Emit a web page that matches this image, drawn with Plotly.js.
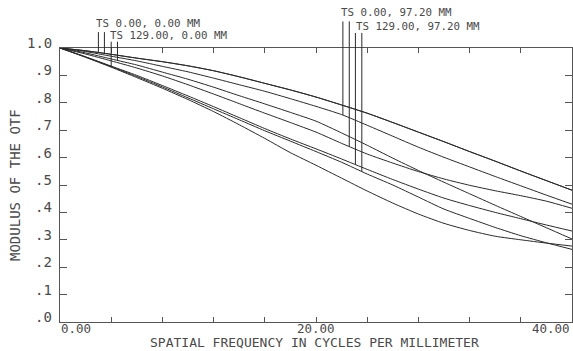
<!DOCTYPE html>
<html><head><meta charset="utf-8">
<script src="https://cdn.plot.ly/plotly-3.0.1.min.js"></script>
<style>html,body{margin:0;padding:0;background:#fff;} #chart{width:573px;height:351px;}</style>
</head><body><div id="chart"></div>
<script>
// Spatial frequency samples (cycles/mm)
const freq = [0, 2, 4, 6, 8, 10, 12, 14, 16, 18, 20, 22, 24, 26, 28, 30, 32, 34, 36, 38, 40];

// MTF series (T = tangential, S = sagittal) per field
const f1T = [1.000, 0.990, 0.977, 0.963, 0.950, 0.935, 0.917, 0.895, 0.871, 0.847, 0.821, 0.792, 0.762, 0.728, 0.693, 0.658, 0.622, 0.587, 0.551, 0.516, 0.481];
const f1S = [1.000, 0.990, 0.977, 0.963, 0.950, 0.935, 0.917, 0.895, 0.871, 0.847, 0.821, 0.792, 0.762, 0.728, 0.693, 0.658, 0.622, 0.587, 0.551, 0.516, 0.481];
const f2T = [1.000, 0.966, 0.930, 0.892, 0.853, 0.812, 0.768, 0.720, 0.670, 0.618, 0.572, 0.525, 0.478, 0.434, 0.394, 0.360, 0.334, 0.313, 0.300, 0.288, 0.277];
const f2S = [1.000, 0.982, 0.960, 0.938, 0.912, 0.886, 0.857, 0.826, 0.796, 0.765, 0.733, 0.690, 0.645, 0.598, 0.553, 0.510, 0.468, 0.426, 0.385, 0.344, 0.303];
const f3T = [1.000, 0.987, 0.970, 0.953, 0.933, 0.913, 0.890, 0.866, 0.842, 0.815, 0.787, 0.757, 0.718, 0.678, 0.638, 0.601, 0.566, 0.531, 0.497, 0.463, 0.430];
const f3S = [1.000, 0.978, 0.953, 0.927, 0.898, 0.866, 0.832, 0.797, 0.762, 0.728, 0.693, 0.652, 0.613, 0.580, 0.549, 0.522, 0.499, 0.479, 0.461, 0.441, 0.415];
const f4T = [1.000, 0.968, 0.934, 0.900, 0.863, 0.825, 0.786, 0.746, 0.706, 0.668, 0.632, 0.595, 0.557, 0.520, 0.485, 0.452, 0.425, 0.400, 0.377, 0.354, 0.332];
const f4S = [1.000, 0.967, 0.932, 0.896, 0.858, 0.818, 0.778, 0.738, 0.698, 0.660, 0.622, 0.583, 0.540, 0.500, 0.456, 0.412, 0.378, 0.345, 0.315, 0.289, 0.265];

// Field labels and the frequency at which each curve's leader line is drawn
const fieldLabels = ['TS 0.00, 0.00 MM', 'TS 129.00, 0.00 MM', 'TS 0.00, 97.20 MM', 'TS 129.00, 97.20 MM'];
const leaderFreq = [3.0, 3.47, 4.0, 4.49, 22.1, 22.6, 23.08, 23.58];

// Axis ticks
const xTickVals = [0, 4, 8, 12, 16, 20, 24, 28, 32, 36, 40];
const xLabelVals = [0, 20, 40];
const xLabelText = ['0.00', '20.00', '40.00'];
const yTickVals = [0, 0.1, 0.2, 0.3, 0.4, 0.5, 0.6, 0.7, 0.8, 0.9, 1.0];
const yTickText = ['.0', '.1', '.2', '.3', '.4', '.5', '.6', '.7', '.8', '.9', '1.0'];
const xTitle = 'SPATIAL FREQUENCY IN CYCLES PER MILLIMETER';
const yTitle = 'MODULUS OF THE OTF';

const series = [f1T, f1S, f2T, f2S, f3T, f3S, f4T, f4S];

function interp(xs, ys, x) {
  for (let i = 0; i < xs.length - 1; i++) {
    if (x >= xs[i] && x <= xs[i + 1]) {
      const t = (x - xs[i]) / (xs[i + 1] - xs[i]);
      return ys[i] + t * (ys[i + 1] - ys[i]);
    }
  }
  return ys[ys.length - 1];
}

const lineCol = '#2a2a2a';
const axCol = '#555';
const txtCol = '#4a4a4a';
const monoBig = {family: 'DejaVu Sans Mono', size: 14, color: txtCol};
const monoTick = {family: 'DejaVu Sans Mono', size: 12.5, color: txtCol};
const monoTitle = {family: 'DejaVu Sans Mono', size: 13, color: txtCol};
const monoSmall = {family: 'DejaVu Sans Mono', size: 10.8, color: txtCol};

const traces = series.map(s => ({
  x: freq, y: s, type: 'scatter', mode: 'lines',
  line: {color: lineCol, width: 1, shape: 'spline', smoothing: 0.6},
  hoverinfo: 'skip', showlegend: false
}));

// leader line tops (paper coords), one per field
const leaderTop = [1.058, 1.023, 1.097, 1.055];
const shapes = [];
series.forEach((s, i) => {
  const f = Math.floor(i / 2);
  shapes.push({
    type: 'line', xref: 'x', yref: 'paper',
    x0: leaderFreq[i], x1: leaderFreq[i],
    y0: interp(freq, s, leaderFreq[i]), y1: leaderTop[f],
    line: {color: lineCol, width: 1}
  });
});

const annotations = [];
// field labels
const labelY = [1.089, 1.044, 1.128, 1.080];
const labelShift = [-3, -2, -3, 0];
fieldLabels.forEach((t, k) => {
  annotations.push({
    xref: 'x', yref: 'paper', x: leaderFreq[2 * k], y: labelY[k],
    xanchor: 'left', yanchor: 'middle', xshift: labelShift[k],
    text: t, showarrow: false, font: monoSmall, borderpad: 0
  });
});
// y tick labels
yTickVals.forEach((v, i) => {
  annotations.push({
    xref: 'paper', yref: 'y', x: 0, y: v, xanchor: 'right', yanchor: 'middle',
    xshift: -7, yshift: 5, text: yTickText[i], showarrow: false, font: monoBig, borderpad: 0
  });
});
// x tick labels
xLabelVals.forEach((v, i) => {
  const anc = i === 0 ? 'left' : (i === xLabelVals.length - 1 ? 'right' : 'center');
  annotations.push({
    xref: 'x', yref: 'paper', x: v, y: 0, xanchor: anc, yanchor: 'middle',
    yshift: -6.5, xshift: i === xLabelVals.length - 1 ? -1 : 0,
    text: xLabelText[i], showarrow: false, font: monoTick, borderpad: 0
  });
});
// axis titles
annotations.push({xref: 'paper', yref: 'paper', x: 0.497, y: 0, xanchor: 'center', yanchor: 'middle',
  yshift: -20.5, text: xTitle, showarrow: false, font: monoTitle, borderpad: 0});
annotations.push({xref: 'paper', yref: 'paper', x: 0, y: 0.5, xanchor: 'center', yanchor: 'middle',
  xshift: -45, textangle: -90, text: yTitle, showarrow: false, font: monoBig, borderpad: 0});

const layout = {
  width: 573, height: 351,
  margin: {l: 60, r: 1, t: 48, b: 29, pad: 0},
  paper_bgcolor: '#fff', plot_bgcolor: '#fff',
  showlegend: false,
  xaxis: {range: [0, 40], tickmode: 'array', tickvals: xTickVals, showticklabels: false,
    ticks: 'inside', ticklen: 5, tickcolor: axCol, tickwidth: 1,
    showline: true, linecolor: axCol, linewidth: 1, mirror: 'ticks',
    showgrid: false, zeroline: false, fixedrange: true},
  yaxis: {range: [0, 1], tickmode: 'array', tickvals: yTickVals, showticklabels: false,
    ticks: 'inside', ticklen: 7, tickcolor: axCol, tickwidth: 1,
    showline: true, linecolor: axCol, linewidth: 1, mirror: 'ticks',
    showgrid: false, zeroline: false, fixedrange: true},
  shapes: shapes,
  annotations: annotations
};

Plotly.newPlot('chart', traces, layout, {staticPlot: true, displayModeBar: false});
</script>
</body></html>
